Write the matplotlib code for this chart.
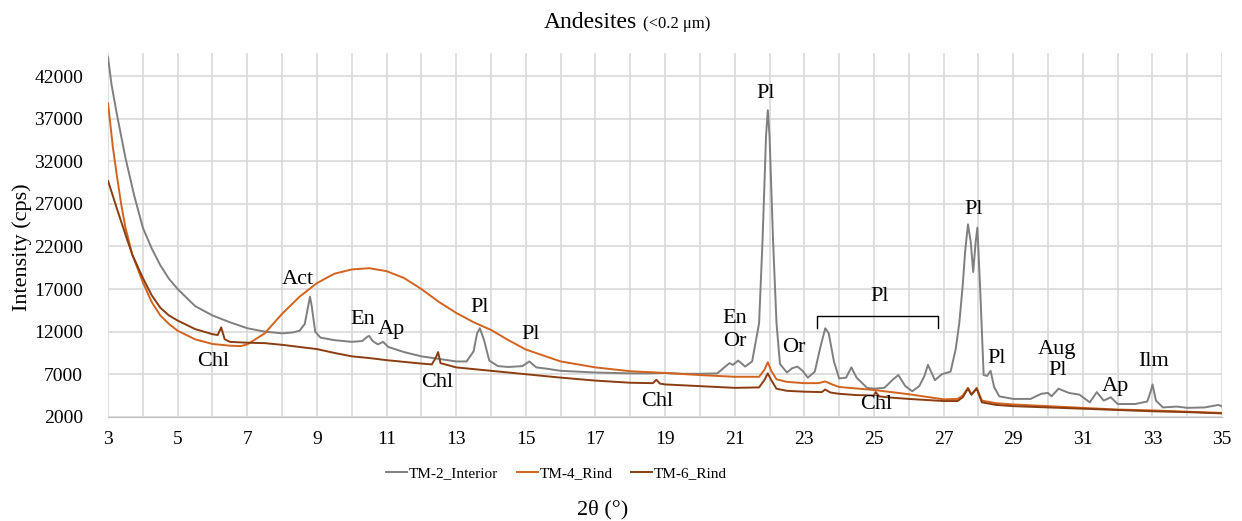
import matplotlib
matplotlib.use("Agg")
import matplotlib.pyplot as plt
import numpy as np

plt.rcParams['font.family'] = ['Liberation Serif', 'DejaVu Serif']

# TM-2_Interior (grey)
x_tm2 = [3, 3.1, 3.25, 3.5, 3.75, 4, 4.25, 4.5, 4.75, 5, 5.5, 6, 6.5, 7, 7.5, 8, 8.3, 8.5,
         8.65, 8.75, 8.8, 8.85, 8.95, 9.1, 9.5, 10, 10.3, 10.45, 10.5, 10.6, 10.75, 10.9,
         11.05, 11.5, 12, 12.5, 13, 13.3, 13.5, 13.6, 13.68, 13.8, 13.95, 14.2, 14.5, 14.9,
         15.1, 15.3, 15.6, 16, 16.5, 17, 17.5, 18, 18.5, 19, 19.5, 20, 20.5, 20.7, 20.85,
         20.95, 21.1, 21.3, 21.5, 21.7, 21.8, 21.9, 21.95, 22.0, 22.1, 22.2, 22.3, 22.5,
         22.65, 22.8, 22.95, 23.1, 23.3, 23.45, 23.6, 23.7, 23.85, 24.0, 24.2, 24.35, 24.5,
         24.8, 25.0, 25.3, 25.55, 25.7, 25.9, 26.1, 26.3, 26.45, 26.55, 26.75, 26.95, 27.2,
         27.35, 27.45, 27.55, 27.62, 27.7, 27.78, 27.85, 27.92, 27.97, 28.05, 28.15, 28.25,
         28.35, 28.45, 28.6, 29, 29.5, 29.8, 30, 30.1, 30.3, 30.6, 30.9, 31.2, 31.4, 31.6,
         31.8, 32, 32.5, 32.85, 32.95, 33.0, 33.1, 33.3, 33.7, 34, 34.5, 34.9, 35]
y_tm2 = [44200, 41000, 37600, 32400, 28000, 24200, 21800, 19800, 18200, 17000, 15000, 13900,
         13100, 12400, 12000, 11800, 11900, 12100, 12900, 15000, 16100, 15000, 12000, 11300,
         11000, 10800, 10900, 11400, 11500, 10900, 10500, 10800, 10200, 9600, 9100, 8800,
         8500, 8500, 9700, 11800, 12400, 11000, 8600, 7950, 7850, 7950, 8500, 7800, 7650,
         7400, 7300, 7200, 7150, 7100, 7100, 7150, 7050, 7050, 7100, 7800, 8300, 8100, 8600,
         7900, 8500, 13000, 22800, 35000, 38000, 35000, 22800, 13000, 8200, 7200, 7700, 7900,
         7400, 6600, 7300, 10000, 12400, 11800, 8500, 6500, 6600, 7800, 6600, 5400, 5300,
         5400, 6400, 6900, 5600, 5000, 5600, 6800, 8100, 6300, 7000, 7300, 10000, 13000,
         17500, 21500, 24600, 22500, 19000, 22500, 24200, 17000, 6900, 6800, 7400, 5500, 4400,
         4100, 4100, 4700, 4800, 4400, 5300, 4800, 4600, 3700, 4900, 3900, 4300, 3500, 3500,
         3800, 5000, 5800, 3900, 3100, 3200, 3050, 3100, 3400, 3200]

# TM-4_Rind (orange)
x_tm4 = [3, 3.14, 3.25, 3.38, 3.5, 3.7, 4, 4.25, 4.5, 4.75, 5, 5.5, 6, 6.5, 6.8, 7, 7.5, 8,
         8.5, 9, 9.5, 10, 10.5, 11, 11.5, 12, 12.5, 13, 13.5, 14, 14.5, 15, 15.5, 16, 17, 18,
         19, 20, 21, 21.7, 21.85, 21.95, 22.05, 22.2, 22.5, 23, 23.4, 23.6, 23.8, 24, 25, 26,
         27, 27.4, 27.55, 27.7, 27.8, 27.95, 28.1, 28.5, 29, 30, 31, 32, 33, 34, 35]
y_tm4 = [38800, 33600, 30400, 26900, 24200, 21000, 17800, 15500, 13900, 12900, 12100, 11100,
         10550, 10350, 10300, 10500, 11800, 14100, 16100, 17700, 18800, 19300, 19450, 19100,
         18300, 17000, 15500, 14200, 13100, 12200, 11000, 9900, 9200, 8500, 7800, 7350, 7150,
         6900, 6700, 6700, 7500, 8400, 7400, 6400, 6100, 5950, 5950, 6150, 5800, 5500, 5150,
         4650, 4050, 4100, 4500, 5400, 4600, 5400, 3900, 3600, 3450, 3250, 3050, 2850, 2750,
         2600, 2450]

# TM-6_Rind (brown)
x_tm6 = [3, 3.25, 3.5, 3.7, 4, 4.25, 4.5, 4.75, 5, 5.5, 6, 6.15, 6.25, 6.35, 6.5, 7, 7.5, 8,
         8.5, 9, 9.5, 10, 10.5, 11, 11.5, 12, 12.3, 12.42, 12.48, 12.55, 13, 14, 15, 16, 17,
         18, 18.65, 18.75, 18.85, 19, 20, 21, 21.7, 21.85, 21.95, 22.05, 22.2, 22.5, 23, 23.5,
         23.6, 23.75, 24, 24.5, 25, 25.05, 25.15, 25.5, 26, 27, 27.4, 27.55, 27.7, 27.8,
         27.95, 28.1, 28.5, 29, 30, 31, 32, 33, 34, 35]
y_tm6 = [29700, 26500, 23400, 21000, 18300, 16300, 14800, 13900, 13300, 12300, 11700, 11600,
         12500, 11100, 10800, 10700, 10650, 10450, 10200, 9950, 9500, 9100, 8900, 8650, 8450,
         8250, 8150, 9000, 9600, 8300, 7800, 7400, 7000, 6600, 6250, 6000, 5950, 6350, 5900,
         5800, 5600, 5400, 5450, 6300, 7100, 6300, 5300, 5050, 4950, 4900, 5200, 4850, 4700,
         4550, 4500, 4900, 4400, 4250, 4100, 3850, 3850, 4300, 5300, 4600, 5300, 3700, 3400,
         3250, 3100, 2950, 2800, 2650, 2550, 2400]

# peak labels: text, 2theta, intensity
labels = ["Act", "En", "Ap", "Chl", "Chl", "Pl", "Pl", "Chl", "En", "Or", "Pl", "Or", "Pl",
          "Chl", "Pl", "Pl", "Aug", "Pl", "Ap", "Ilm"]
label_x = [8.46, 10.33, 11.13, 6.02, 12.45, 13.66, 15.15, 18.78, 21.0, 21.0, 21.9, 22.7, 25.15,
           25.07, 27.86, 28.52, 30.27, 30.27, 31.94, 33.03]
label_y = [18100, 13400, 12200, 8450, 6000, 14800, 11700, 3750, 13600, 10800, 40000, 10100,
           16100, 3400, 26300, 8900, 9850, 7400, 5500, 8450]

bracket_x = [23.37, 23.37, 26.85, 26.85]
bracket_y = [12450, 13850, 13850, 12450]

fig = plt.figure(figsize=(12.42, 5.21), dpi=100)
ax = fig.add_axes([0.087, 0.2, 0.897, 0.698])

ax.plot(x_tm2, y_tm2, color='#7f7f7f', lw=1.4, label='TM-2_Interior')
ax.plot(x_tm4, y_tm4, color='#d2631f', lw=1.4, label='TM-4_Rind')
ax.plot(x_tm6, y_tm6, color='#8a3d10', lw=1.4, label='TM-6_Rind')

for t, lx, ly in zip(labels, label_x, label_y):
    ax.text(lx, ly, t, ha='center', va='center', fontsize=16)
ax.plot(bracket_x, bracket_y, color='black', lw=1)

ax.set_xlim(3, 35)
ax.set_ylim(2000, 44700)
ax.set_xticks(np.arange(3, 36, 2))
ax.set_xticks(np.arange(3, 36, 1), minor=True)
ax.set_yticks(np.arange(2000, 44000, 5000))
ax.grid(True, which='both', color='#d9d9d9', lw=1.2)
ax.set_axisbelow(True)
ax.tick_params(which='both', length=0, labelsize=14)
ax.tick_params(axis='y', pad=18)
ax.tick_params(axis='x', pad=10)
for s in ['top', 'right', 'left']:
    ax.spines[s].set_visible(False)
ax.spines['bottom'].set_color('#bfbfbf')

fig.text(0.513, 0.946, "Andesites", ha='right', va='baseline', fontsize=17)
fig.text(0.518, 0.946, "(<0.2 μm)", ha='left', va='baseline', fontsize=12)
fig.text(0.018, 0.526, "Intensity (cps)", rotation=90, ha='center', va='center', fontsize=16)
fig.text(0.485, 0.021, "2θ (°)", ha='center', va='center', fontsize=16)

fig.legend(loc='center', bbox_to_anchor=(0.448, 0.092), ncol=3, frameon=False, fontsize=11,
           handlelength=1.4, handletextpad=0.1, columnspacing=1.2)

plt.savefig('out.png', dpi=100)
